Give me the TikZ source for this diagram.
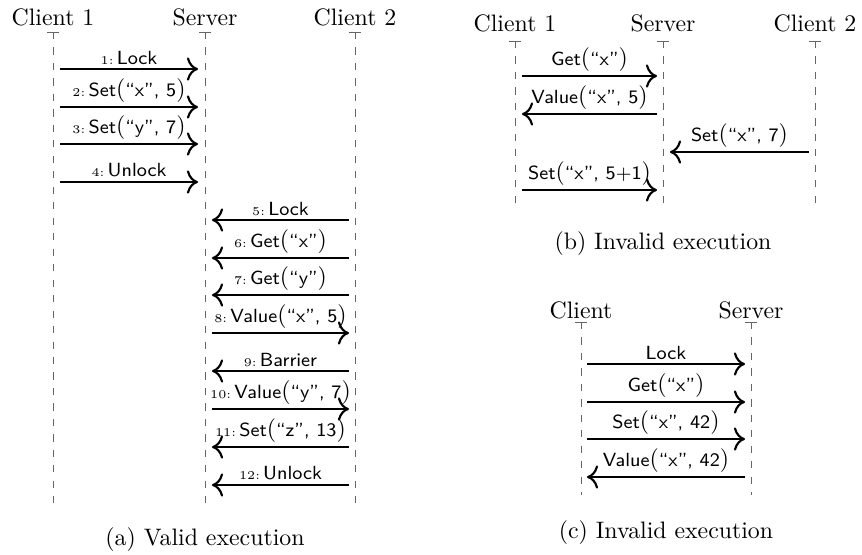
\documentclass[tikz,border=0pt]{standalone}
\usetikzlibrary{arrows.meta,positioning}

\newcommand{\no}[1]{{\rmfamily\tiny #1:}\,}
\newcommand{\lp}{{\rmfamily\normalsize(}}
\newcommand{\rp}{{\rmfamily\normalsize)}}

\begin{document}
\begin{tikzpicture}[
            x=0.42pt,y=-0.42pt,
            actor/.style={inner sep=0pt},
            life/.style={draw=black!60,dash pattern=on 3pt off 3.5pt,thin},
            lifetop/.style={draw=black!60,thin},
            msg/.style={draw,-{To[scale=1.3]},line width=0.9pt},
            lab/.style={above,midway,inner sep=1.5pt,font=\footnotesize\sffamily},
            capt/.style={inner sep=0pt}
          ]
          \useasboundingbox (0,0) rectangle (862,555);

          %actors
          \node[actor] (a1) at (53,17) {Client 1};
          \node[actor] (a2) at (205,17) {Server};
          \node[actor] (a3) at (355,17) {Client 2};

          \node[actor] (b1) at (515,23) {Client 1};
          \node[actor] (b2) at (663,23) {Server};
          \node[actor] (b3) at (815,23) {Client 2};

          \node[actor] (c1) at (581,310) {Client};
          \node[actor] (c2) at (751,310) {Server};

          %lifelines
          \foreach \n/\x/\t/\b in {a1/53/32/503,a2/205/32/503,a3/355/32/503,
                                   b1/515/41/207,b2/663/41/207,b3/815/41/207,
                                   c1/581/322/495,c2/751/322/495}{
            \coordinate (\n top) at (\x,\t);
            \coordinate (\n bot) at (\x,\b);
            \draw[life] (\n top) -- (\n bot);
            \draw[lifetop] ([xshift=-2.5pt]\n top) -- ([xshift=2.5pt]\n top);
          }

          %valid execution
          \foreach \i/\f/\t/\y/\txt in {
              1/60/198/69/{\no{1}Lock},
              2/60/198/107/{\no{2}Set\lp``x'', 5\rp},
              3/60/198/144/{\no{3}Set\lp``y'', 7\rp},
              4/60/198/182/{\no{4}Unlock},
              5/349/212/220/{\no{5}Lock},
              6/349/212/258/{\no{6}Get\lp``x''\rp},
              7/349/212/295/{\no{7}Get\lp``y''\rp},
              8/212/349/333/{\no{8}Value\lp``x'', 5\rp},
              9/349/212/371/{\no{9}Barrier},
              10/212/349/409/{\no{10}Value\lp``y'', 7\rp},
              11/349/212/447/{\no{11}Set\lp``z'', 13\rp},
              12/349/212/485/{\no{12}Unlock}}{
            \coordinate (ma\i s) at (\f,\y);
            \coordinate (ma\i e) at (\t,\y);
            \path (ma\i s) edge[msg] node[lab] {\txt} (ma\i e);
          }

          %invalid execution (b)
          \foreach \i/\f/\t/\y/\txt in {
              1/522/657/76/{Get\lp``x''\rp},
              2/657/522/114/{Value\lp``x'', 5\rp},
              3/809/670/152/{Set\lp``x'', 7\rp},
              4/522/657/190/{Set\lp``x'', 5+1\rp}}{
            \coordinate (mb\i s) at (\f,\y);
            \coordinate (mb\i e) at (\t,\y);
            \path (mb\i s) edge[msg] node[lab] {\txt} (mb\i e);
          }

          %invalid execution (c)
          \foreach \i/\f/\t/\y/\txt in {
              1/587/745/364/{Lock},
              2/587/745/402/{Get\lp``x''\rp},
              3/587/745/439/{Set\lp``x'', 42\rp},
              4/745/587/477/{Value\lp``x'', 42\rp}}{
            \coordinate (mc\i s) at (\f,\y);
            \coordinate (mc\i e) at (\t,\y);
            \path (mc\i s) edge[msg] node[lab] {\txt} (mc\i e);
          }

          %captions
          \node[capt] (capa) at (205,540) {(a) Valid execution};
          \node[capt] (capb) at (663,244) {(b) Invalid execution};
          \node[capt] (capc) at (666,533) {(c) Invalid execution};

      \end{tikzpicture}
\end{document}
